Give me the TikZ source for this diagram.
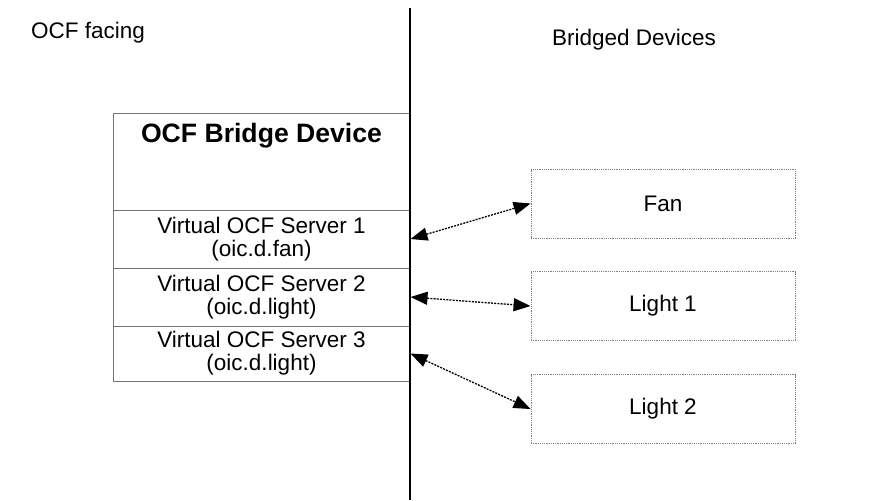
\documentclass[tikz,border=0pt]{standalone}
\usepackage{fontspec}
\setmainfont{Liberation Sans}
\usetikzlibrary{arrows.meta}

\begin{document}
\begin{tikzpicture}[x=0.5pt,y=-0.5pt,
    txt/.style={font=\fontsize{11.25}{11.6}\selectfont,align=center},
    srv/.style={draw=black!55,line width=0.5pt,minimum width=148.5pt,minimum height=29pt,inner sep=0pt,txt},
    dev/.style={draw=black!50,line width=0.45pt,dash pattern=on 0.6pt off 0.5pt,minimum width=132pt,minimum height=34.5pt,inner sep=0pt,txt},
    link/.style={{Triangle[length=8.5pt,width=6.5pt]}-{Triangle[length=8.5pt,width=6.5pt]},line width=0.65pt,dash pattern=on 1pt off 0.6pt}]
    \useasboundingbox (0,0) rectangle (876,500);
    \node[txt] (o) at (88,33) {OCF facing};
    \node[txt] (b) at (634,40) {Bridged Devices};
    \node[srv,minimum height=48.5pt] (d) at (261.5,161.5) {};
    \node[font=\fontsize{13.3}{15}\selectfont\bfseries] (t) at (261.5,136) {OCF Bridge Device};
    \node[srv] (s1) at (261.5,239) {Virtual OCF Server 1\\(oic.d.fan)};
    \node[srv] (s2) at (261.5,297) {Virtual OCF Server 2\\(oic.d.light)};
    \node[srv,minimum height=27.5pt] (s3) at (261.5,353.5) {Virtual OCF Server 3\\(oic.d.light)};
    \node[dev] (f) at (663,203.5) {Fan};
    \node[dev] (l1) at (663,306) {Light 1};
    \node[dev] (l2) at (663,409) {Light 2};
    \coordinate (top) at (410,8);
    \coordinate (bot) at (410,500);
    \draw[line width=0.75pt] (top) -- (bot);
    \draw[link] (s1.east) -- (f.west);
    \draw[link] (s2.east) -- (l1.west);
    \draw[link] (s3.east) -- (l2.west);
  \end{tikzpicture}
\end{document}
